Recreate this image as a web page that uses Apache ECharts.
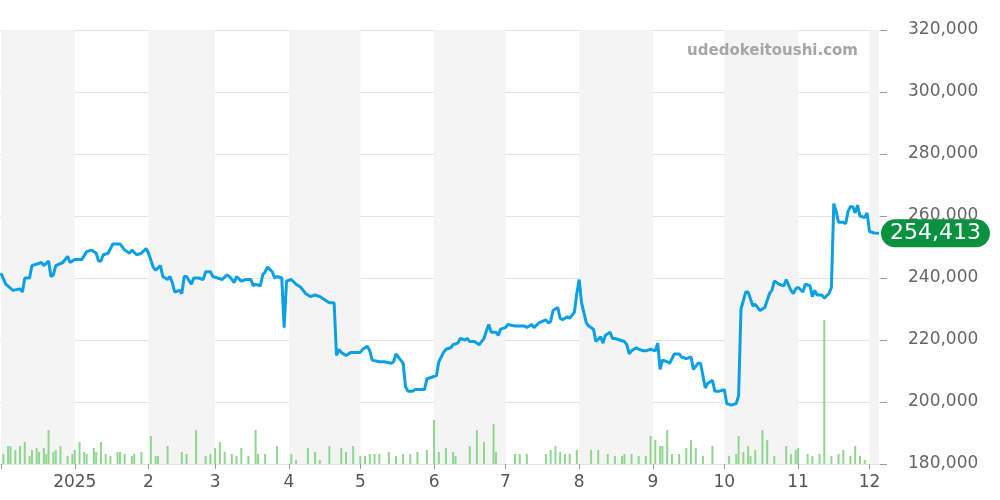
<!DOCTYPE html>
<html><head><meta charset="utf-8">
<script src="https://cdn.jsdelivr.net/npm/echarts@6/dist/echarts.min.js"></script>
<style>html,body{margin:0;padding:0;background:#fff}#c{width:1000px;height:500px}</style>
</head><body><div id="c"></div>
<script>
// days since 2024-12-01
const priceDays = [0,2,5,8,9,10,12,13,17,18,20,21,22,23,26,28,29,31,34,36,38,40,41,42,43,45,47,50,52,54,55,57,59,61,62,64,65,67,68,70,71,72,73,75,76,77,78,80,81,83,85,86,88,89,91,93,95,96,98,99,101,103,105,106,107,109,110,111,112,114,115,116,118,119,120,122,124,126,128,130,132,134,136,138,140,141,142,143,145,147,149,151,152,154,155,156,159,161,164,165,166,168,169,170,171,173,174,176,178,179,181,183,184,186,187,189,190,192,193,195,196,197,199,201,203,204,205,206,208,209,210,212,213,216,218,220,221,223,224,226,229,230,231,232,234,235,236,238,239,241,242,243,244,246,247,249,250,252,253,254,256,257,258,260,262,263,264,265,267,268,270,271,273,275,276,277,278,280,281,283,285,286,288,290,291,293,294,296,297,299,300,302,304,305,307,309,310,311,313,314,316,317,319,321,323,324,325,327,329,330,332,333,334,335,337,338,340,341,342,343,345,346,348,349,350,351,352,354,355,356,357,358,359,360,361,363,364,365,367,369];
const prices = [241500,238000,236000,236500,235500,240000,240000,244000,245000,244000,245500,240500,241000,244000,245000,247000,245000,246000,246000,248500,249000,248000,245500,245500,247500,248000,251000,251000,249000,248000,249000,247500,248000,249500,248000,243500,242500,244000,240500,239500,240500,238500,235500,236000,235000,240500,240500,238000,240000,240000,239500,242000,242000,240500,240000,239500,241000,240500,238500,240500,239000,239500,239500,237500,238000,237500,241000,242000,243500,242000,240000,240500,240000,224000,239000,239500,238000,237000,235000,234000,234500,234000,233000,232000,232000,215000,217000,216000,215000,216000,216000,216000,217000,218000,216500,213500,213000,213000,212500,213000,215500,213500,212500,205000,203500,203500,204000,204000,204000,207500,208000,208500,213000,216000,217000,217500,218500,219000,220500,220000,220500,219500,219500,218500,220500,223000,225000,222500,222500,221500,223500,224000,225000,224500,224500,224500,224000,225000,224000,225500,226500,225500,226000,229500,230500,227000,226500,227500,227000,229000,235000,239500,232000,225500,224500,223500,219500,221000,219000,221500,222500,220500,220500,220000,219500,218500,215500,216500,217500,217000,216500,216500,217000,216500,219000,210500,213500,213000,212500,215500,215500,214500,214000,214500,210500,212500,212500,204500,206000,207000,203500,203500,204000,199500,199000,199500,202000,230000,235500,235500,231000,231500,229500,230500,235000,236000,239000,238000,237500,239500,236000,235000,236500,237000,235500,238000,237500,234000,236000,234500,234500,233500,235000,237000,264000,261500,258000,258000,257500,261500,263000,263000,261000,263500,260000,259500,261000,255000,254500,254413];
const volDays = [1,3,4,6,8,10,12,13,15,16,18,19,20,22,23,25,28,30,31,33,35,36,39,40,42,44,46,49,50,52,55,56,59,63,65,66,70,76,78,82,86,88,90,92,94,97,99,101,104,107,108,111,116,122,124,129,132,134,138,143,145,148,151,153,155,157,159,163,166,169,172,175,179,182,184,187,190,191,197,200,203,207,208,216,218,221,229,231,233,235,237,239,242,248,251,255,258,261,262,265,268,271,273,275,277,278,280,282,285,288,290,292,295,299,306,309,310,312,314,315,317,320,322,325,330,332,334,335,339,341,344,346,349,352,354,357,359,361,363];
const volumes = [10,18,18,14,18,22,8,14,16,12,16,10,34,12,14,18,8,10,14,22,12,10,16,12,22,10,8,12,12,10,8,10,12,28,8,8,18,12,10,34,8,10,16,22,12,10,8,16,8,34,10,10,18,10,4,16,12,4,18,16,12,18,8,8,10,10,10,12,8,10,10,12,14,44,12,16,12,8,18,34,22,40,12,10,10,10,10,14,18,12,10,10,14,14,14,10,8,8,10,10,8,8,28,24,18,18,34,10,10,16,24,16,8,18,8,10,28,12,18,8,14,34,24,8,18,10,14,16,10,8,10,144,8,10,14,8,18,8,4];
const bandMonths = [[2024,11],[2025,1],[2025,3],[2025,5],[2025,7],[2025,9],[2025,11]];

const DAY = 86400000, BASE = Date.UTC(2024,11,1);
const toT = d => BASE + d*DAY;
const priceData = priceDays.map((d,i)=>[toT(d), prices[i]]);
const volData = volDays.map((d,i)=>[toT(d), volumes[i]]);
const bands = bandMonths.map(([y,m])=>[{xAxis: Date.UTC(y,m,1)},{xAxis: Math.min(Date.UTC(y,m+1,1), toT(369))}]);

const chart = echarts.init(document.getElementById('c'));
chart.setOption({
  animation:false,
  grid:{left:0,right:120,top:30,bottom:36,outerBoundsMode:'none',containLabel:false},
  graphic:[{type:'text',z:100,zlevel:1,right:142,top:44,style:{text:'udedokeitoushi.com',fill:'#a6a6a6',font:'bold 15px "DejaVu Sans"'}}],
  xAxis:{type:'time',min:toT(0),max:toT(369),
    minInterval:28*DAY,maxInterval:31*DAY,
    axisLine:{show:false},axisTick:{show:true,lineStyle:{color:'#999'},length:5},
    splitLine:{show:false},
    axisLabel:{color:'#555',fontSize:17,fontFamily:'DejaVu Sans',margin:10,showMinLabel:false,
      formatter:v=>{if(v<=toT(0))return '';const d=new Date(v);return d.getUTCMonth()===0?String(d.getUTCFullYear()):String(d.getUTCMonth()+1);}}},
  yAxis:[{type:'value',position:'right',min:180000,max:320000,interval:20000,
    axisLine:{show:false},axisTick:{show:true,length:7,lineStyle:{color:'#999'}},
    splitLine:{lineStyle:{color:'#e4e4e4'}},
    axisLabel:{color:'#666',fontSize:17,fontFamily:'DejaVu Sans',margin:28,padding:[4,0,0,0],formatter:v=>v.toLocaleString('en-US')}},
    {type:'value',min:0,max:434,show:false}],
  series:[
    {type:'bar',yAxisIndex:1,data:volData,barWidth:2,itemStyle:{color:'#8fd68f'},silent:true,
     markArea:{silent:true,itemStyle:{color:'#f4f4f4'},data:bands}},
    {type:'line',data:priceData,showSymbol:false,lineStyle:{color:'#0ba0e3',width:3},itemStyle:{color:'#0ba0e3'},
     endLabel:{show:true,distance:2,formatter:p=>p.value[1].toLocaleString('en-US'),color:'#fff',fontSize:22,fontFamily:'DejaVu Sans',
       backgroundColor:'#0a9140',borderRadius:15,padding:[3,9,3,9]}}
  ]
});
</script></body></html>
